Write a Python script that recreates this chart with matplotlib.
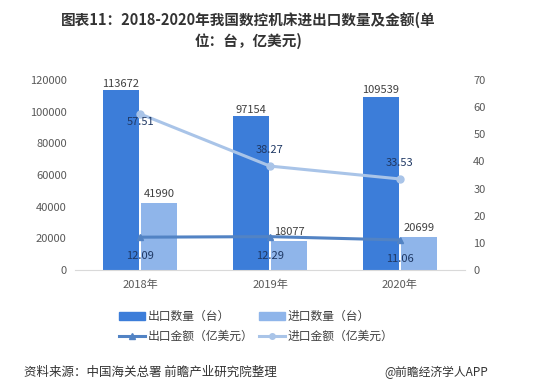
import matplotlib
matplotlib.use("Agg")
import matplotlib.pyplot as plt
import numpy as np
from matplotlib.lines import Line2D
from matplotlib.patches import Patch

plt.rcParams['font.family'] = ['Noto Sans CJK SC', 'DejaVu Sans']

years = ['2018年', '2019年', '2020年']
export_qty = [113672, 97154, 109539]
import_qty = [41990, 18077, 20699]
export_amt = [12.09, 12.29, 11.06]
import_amt = [57.51, 38.27, 33.53]
left_ticks = [0, 20000, 40000, 60000, 80000, 100000, 120000]
right_ticks = [0, 10, 20, 30, 40, 50, 60, 70]

c_exp = '#3c7dd9'
c_imp = '#8fb5ea'
c_exp_line = '#5283c4'
c_imp_line = '#a9c4e8'
tick_col = '#595959'
lab_col = '#404040'
amt_col = '#1f3864'

fig = plt.figure(figsize=(5.4, 3.9), dpi=100)
ax = fig.add_axes([0.139, 0.3077, 0.722, 0.4873])
ax2 = ax.twinx()

x = np.arange(len(years))
w = 0.28
gap = 0.012
ax.bar(x - w/2 - gap/2, export_qty, w, color=c_exp, zorder=2)
ax.bar(x + w/2 + gap/2, import_qty, w, color=c_imp, zorder=2)
ax.set_xlim(-0.5, 2.5)
ax.set_ylim(0, 120000)
ax.set_yticks(left_ticks)
ax.set_yticklabels([str(t) for t in left_ticks])
ax.set_xticks(x)
ax.set_xticklabels(years)
for s in ['top', 'right', 'left']:
    ax.spines[s].set_visible(False)
ax.spines['bottom'].set_color('#d9d9d9')
ax.tick_params(axis='both', length=0, labelsize=8, colors=tick_col, pad=6)
ax.tick_params(axis='x', pad=7)

for i in range(len(years)):
    ax.annotate(str(export_qty[i]), (x[i] - w/2 - gap/2, export_qty[i]), xytext=(0, 1),
                textcoords='offset points', ha='center', va='bottom', fontsize=8, color=lab_col)
    ax.annotate(str(import_qty[i]), (x[i] + w/2 + gap/2, import_qty[i]), xytext=(0, 3),
                textcoords='offset points', ha='center', va='bottom', fontsize=8, color=lab_col)

ax2.set_ylim(0, 70)
ax2.set_yticks(right_ticks)
ax2.set_yticklabels([str(t) for t in right_ticks])
for s in ['top', 'right', 'left', 'bottom']:
    ax2.spines[s].set_visible(False)
ax2.tick_params(axis='y', length=0, labelsize=8, colors=tick_col, pad=6)

ax2.plot(x, export_amt, color=c_exp_line, lw=2.2, marker='^', ms=5, zorder=3)
ax2.plot(x, import_amt, color=c_imp_line, lw=2.2, marker='o', ms=5, zorder=3)

for i in range(len(years)):
    ax2.annotate(f"{export_amt[i]:.2f}", (x[i], export_amt[i]), xytext=(0, -10),
                 textcoords='offset points', ha='center', va='top', fontsize=8, color=amt_col)
    if i == 0:
        ax2.annotate(f"{import_amt[i]:.2f}", (x[i], import_amt[i]), xytext=(0, -2),
                     textcoords='offset points', ha='center', va='top', fontsize=8, color=amt_col)
    else:
        ax2.annotate(f"{import_amt[i]:.2f}", (x[i], import_amt[i]), xytext=(0, 8),
                     textcoords='offset points', ha='center', va='bottom', fontsize=8, color=amt_col)

fig.text(0.46, 0.95, '图表11：2018-2020年我国数控机床进出口数量及金额(单', ha='center', va='center',
         fontsize=10.5, fontweight='bold', color='#333333')
fig.text(0.46, 0.895, '位：台，亿美元)', ha='center', va='center',
         fontsize=10.5, fontweight='bold', color='#333333')

handles = [Patch(color=c_exp), Patch(color=c_imp),
           Line2D([0], [0], color=c_exp_line, lw=2.2, marker='^', ms=4),
           Line2D([0], [0], color=c_imp_line, lw=2.2, marker='o', ms=4)]
labels = ['出口数量（台）', '进口数量（台）', '出口金额（亿美元）', '进口金额（亿美元）']
fig.legend([handles[0], handles[2], handles[1], handles[3]],
           [labels[0], labels[2], labels[1], labels[3]],
           ncol=2, loc='center', bbox_to_anchor=(0.475, 0.163), frameon=False,
           fontsize=8.5, handlelength=2.2, handleheight=0.6, columnspacing=0.5,
           labelspacing=0.55, handletextpad=0.2, labelcolor='#404040')

fig.text(0.045, 0.045, '资料来源：中国海关总署 前瞻产业研究院整理', ha='left', va='center',
         fontsize=9, color='#333333')
fig.text(0.712, 0.045, '@前瞻经济学人APP', ha='left', va='center', fontsize=8.5, color='#333333')

fig.savefig('out.png', dpi=100, facecolor='white')
